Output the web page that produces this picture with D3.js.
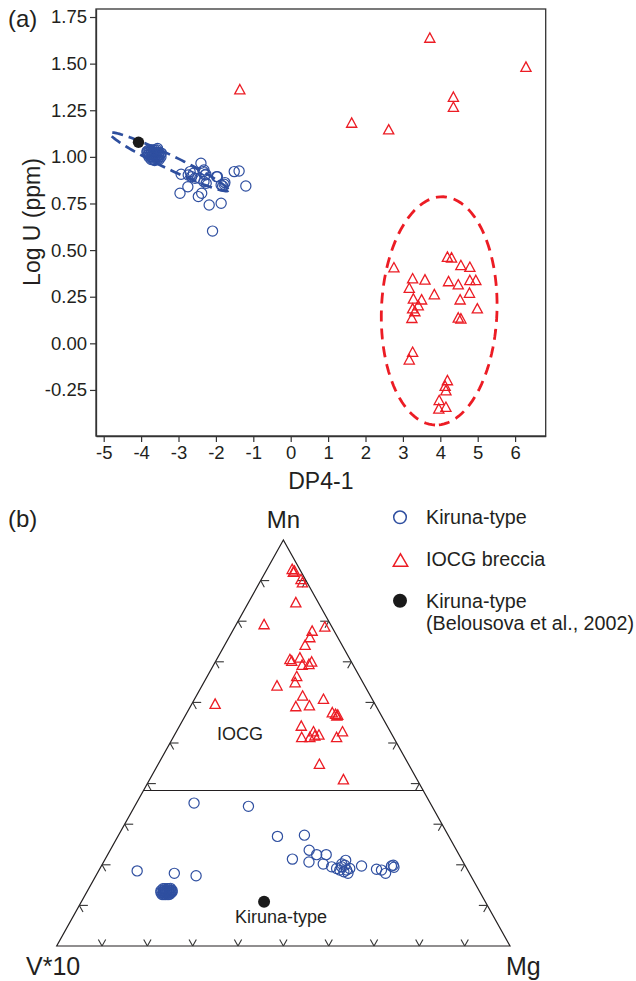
<!DOCTYPE html>
<html><head><meta charset="utf-8">
<script src="https://cdn.jsdelivr.net/npm/d3@7"></script>
<style>
body{margin:0;background:#fff}
svg{display:block}
text{font-family:"Liberation Sans",Arial,Helvetica,sans-serif;fill:#231f20}
</style>
</head><body>
<svg id="c" width="636" height="981"></svg>
<script>
// ---------------- DATA ----------------
// Panel (a): DP4-1 vs Log U (ppm)
const xTicksA = [-5,-4,-3,-2,-1,0,1,2,3,4,5,6];
const yTicksA = [-0.25,0,0.25,0.5,0.75,1,1.25,1.5,1.75];
const xLabelA = "DP4-1";
const yLabelA = "Log U (ppm)";

const kirunaA = [
  // dense cluster
  [-3.79,1.037],[-3.73,1.037],[-3.68,1.037],[-3.63,1.037],[-3.57,1.037],
  [-3.84,1.024],[-3.79,1.024],[-3.73,1.024],[-3.68,1.024],[-3.63,1.024],[-3.57,1.024],[-3.52,1.024],
  [-3.81,1.011],[-3.76,1.011],[-3.70,1.011],[-3.65,1.011],[-3.60,1.011],[-3.54,1.011],[-3.49,1.011],
  [-3.79,0.999],[-3.73,0.999],[-3.68,0.999],[-3.63,0.999],[-3.57,0.999],[-3.52,0.999],[-3.47,0.999],
  [-3.73,0.986],[-3.68,0.986],[-3.63,0.986],[-3.57,0.986],[-3.52,0.986],
  [-3.56,1.045],[-3.46,1.02],[-3.64,0.98],[-3.84,1.030],
  // scattered
  [-2.40,0.966],[-2.93,0.907],[-2.69,0.921],[-2.65,0.894],[-2.34,0.921],[-2.29,0.903],
  [-1.96,0.894],[-2.26,0.858],[-1.86,0.849],[-1.78,0.853],[-1.51,0.921],[-1.38,0.924],
  [-1.20,0.844],[-2.75,0.840],[-2.96,0.805],[-2.47,0.787],[-2.38,0.805],[-2.18,0.742],
  [-1.86,0.751],[-2.09,0.602],[-2.74,0.903],[-2.60,0.912],[-2.32,0.930],[-2.27,0.907],
  [-2.43,0.885],[-2.32,0.867],[-1.98,0.894],[-1.82,0.844],[-1.76,0.862],[-2.56,0.885]
];
const iocgA = [
  [3.72,1.640],[6.29,1.484],[4.35,1.323],[4.35,1.269],[1.63,1.184],[2.62,1.148],[-1.36,1.363],
  [2.76,0.408],[4.19,0.465],[4.30,0.461],[4.55,0.420],[4.79,0.411],[3.26,0.349],[3.59,0.343],
  [3.17,0.298],[4.22,0.334],[4.48,0.317],[4.79,0.340],[4.95,0.340],[4.78,0.272],[3.84,0.264],
  [3.50,0.236],[3.28,0.241],[4.53,0.236],[3.41,0.205],[3.26,0.188],[3.32,0.173],[3.24,0.137],
  [4.99,0.188],[4.48,0.139],[4.55,0.134],[3.26,-0.045],[3.17,-0.086],[4.19,-0.197],
  [4.13,-0.227],[4.15,-0.251],[3.97,-0.304],[4.15,-0.340],[3.96,-0.349]
];
const belousovaA = [[-4.07,1.078]];
// dashed fields: ends of the long axis (data units) and width/length ratio
const kirunaFieldA = {ends: [[-4.83,1.127],[-1.67,0.820]], ratio: 0.105};
const iocgFieldA   = {ends: [[4.08,0.786],[3.86,-0.438]], ratio: 0.506};

// Panel (b): ternary Mn - V*10 - Mg, rows are [Mn, V*10, Mg] fractions
const ternaryTicks = [0.1,0.2,0.3,0.4,0.5,0.6,0.7,0.8,0.9];
const vertexLabels = ["Mn","V*10","Mg"];
const fieldBoundaryMn = 0.383;
const iocgTern = [
  [0.929,0.016,0.055],[0.922,0.017,0.061],[0.925,0.013,0.062],[0.904,0.009,0.087],[0.896,0.010,0.094],
  [0.847,0.049,0.104],[0.793,0.146,0.061],[0.787,0.015,0.198],[0.777,0.048,0.175],[0.761,0.061,0.178],
  [0.742,0.081,0.177],[0.707,0.132,0.161],[0.703,0.130,0.167],[0.711,0.108,0.181],[0.693,0.112,0.195],
  [0.695,0.096,0.209],[0.701,0.087,0.212],[0.665,0.138,0.197],[0.650,0.149,0.201],[0.642,0.193,0.165],
  [0.597,0.352,0.051],[0.617,0.149,0.234],[0.591,0.177,0.232],[0.593,0.146,0.261],[0.609,0.107,0.284],
  [0.576,0.104,0.320],[0.572,0.099,0.329],[0.570,0.095,0.335],[0.568,0.098,0.334],[0.543,0.189,0.268],
  [0.515,0.202,0.283],[0.515,0.184,0.301],[0.529,0.169,0.302],[0.519,0.171,0.310],[0.521,0.161,0.318],
  [0.515,0.125,0.360],[0.529,0.105,0.366],[0.449,0.196,0.355],[0.411,0.162,0.427]
];
const kirunaTern = [
  [0.352,0.521,0.127],[0.344,0.405,0.251],[0.270,0.378,0.352],[0.273,0.317,0.410],[0.236,0.325,0.439],
  [0.225,0.314,0.461],[0.225,0.293,0.482],[0.214,0.373,0.413],[0.207,0.340,0.453],[0.202,0.311,0.487],
  [0.195,0.296,0.509],[0.191,0.287,0.522],[0.195,0.274,0.531],[0.199,0.265,0.536],[0.187,0.267,0.546],
  [0.183,0.275,0.542],[0.191,0.258,0.551],[0.187,0.282,0.531],[0.211,0.257,0.532],[0.179,0.268,0.553],
  [0.202,0.270,0.528],[0.197,0.229,0.574],[0.189,0.200,0.611],[0.187,0.190,0.623],[0.179,0.185,0.636],
  [0.197,0.163,0.640],[0.194,0.159,0.647],[0.199,0.158,0.643],[0.185,0.730,0.085],[0.179,0.651,0.170],
  [0.173,0.606,0.221],
  // dense cluster
  [0.141,0.695,0.164],[0.141,0.691,0.168],[0.141,0.686,0.173],[0.141,0.682,0.177],[0.142,0.678,0.180],
  [0.136,0.702,0.162],[0.136,0.697,0.167],[0.136,0.693,0.171],[0.136,0.689,0.175],[0.136,0.684,0.180],[0.136,0.680,0.184],[0.137,0.677,0.186],
  [0.132,0.704,0.164],[0.132,0.699,0.169],[0.132,0.695,0.173],[0.132,0.691,0.177],[0.132,0.686,0.182],[0.132,0.682,0.186],[0.133,0.679,0.188],
  [0.127,0.704,0.169],[0.127,0.700,0.173],[0.127,0.697,0.176],[0.127,0.693,0.180],[0.127,0.689,0.184],[0.128,0.686,0.186]
];
const belousovaTern = [[0.109,0.488,0.403]];
const legendLabels = ["Kiruna-type","IOCG breccia","Kiruna-type","(Belousova et al., 2002)"];
const fieldLabels = ["IOCG","Kiruna-type"];

// ---------------- DRAWING ----------------
const ink = "#231f20", axisCol = "#333333";
const blue = "#2f4fa0", red = "#ec1c24", black = "#1a1a1a";
const svg = d3.select("#c");

function triPath(x, y, w, h){ return `M${x},${y-h}L${x+w},${y+h}L${x-w},${y+h}Z`; }

// ===== Panel (a) =====
const xA = d3.scaleLinear().domain([-5.206, 6.818]).range([96, 545.7]);
const yA = d3.scaleLinear().domain([-0.497, 1.793]).range([436, 9]);
const gA = svg.append("g");

gA.append("rect").attr("x", xA.range()[0]).attr("y", yA.range()[1])
  .attr("width", xA.range()[1]-xA.range()[0]).attr("height", yA.range()[0]-yA.range()[1])
  .attr("fill","none").attr("stroke",axisCol).attr("stroke-width",1.3);

const axB = gA.append("g").attr("transform",`translate(0,${yA.range()[0]})`)
  .call(d3.axisBottom(xA).tickValues(xTicksA).tickFormat(d=>String(d)).tickSize(6).tickPadding(4).tickSizeOuter(0));
const axL = gA.append("g").attr("transform",`translate(${xA.range()[0]},0)`)
  .call(d3.axisLeft(yA).tickValues(yTicksA).tickFormat(d=>d.toFixed(2)).tickSize(6).tickPadding(3).tickSizeOuter(0));
[axB, axL].forEach(a=>{
  a.attr("font-family",null).attr("font-size",null);
  a.select(".domain").attr("stroke",axisCol).attr("stroke-width",1.3);
  a.selectAll(".tick line").attr("stroke",axisCol).attr("stroke-width",1.2);
  a.selectAll(".tick text").attr("fill",ink).style("font-size","18.5px");
});

gA.append("text").attr("x",(xA.range()[0]+xA.range()[1])/2).attr("y",489).attr("text-anchor","middle")
  .style("font-size","23px").text(xLabelA);
gA.append("text").attr("transform","translate(39.5,222) rotate(-90)").attr("text-anchor","middle")
  .style("font-size","23px").text(yLabelA);
gA.append("text").attr("x",8).attr("y",27).style("font-size","24px").text("(a)");

function ellipsePts(field, sx, sy){
  const p1 = [sx(field.ends[0][0]), sy(field.ends[0][1])];
  const p2 = [sx(field.ends[1][0]), sy(field.ends[1][1])];
  const c = [(p1[0]+p2[0])/2, (p1[1]+p2[1])/2];
  const u = [(p2[0]-p1[0])/2, (p2[1]-p1[1])/2];
  const v = [-u[1]*field.ratio, u[0]*field.ratio];
  return d3.range(0, 120).map(i=>{
    const t = i/120*2*Math.PI;
    return [c[0]+u[0]*Math.cos(t)+v[0]*Math.sin(t), c[1]+u[1]*Math.cos(t)+v[1]*Math.sin(t)];
  });
}
const closed = d3.line().curve(d3.curveLinearClosed);
gA.append("path").attr("d", closed(ellipsePts(kirunaFieldA, xA, yA)))
  .attr("fill","none").attr("stroke","#2e4f9e").attr("stroke-width",2.7).attr("stroke-dasharray","11,6");
gA.append("path").attr("d", closed(ellipsePts(iocgFieldA, xA, yA)))
  .attr("fill","none").attr("stroke",red).attr("stroke-width",2.8).attr("stroke-dasharray","11,7");

gA.append("g").selectAll("circle").data(kirunaA).join("circle")
  .attr("cx",d=>xA(d[0])).attr("cy",d=>yA(d[1])).attr("r",5.1)
  .attr("fill","none").attr("stroke",blue).attr("stroke-width",1.2);
gA.append("g").selectAll("path").data(iocgA).join("path")
  .attr("d",d=>triPath(xA(d[0]), yA(d[1]), 5.1, 4.7))
  .attr("fill","none").attr("stroke",red).attr("stroke-width",1.3).attr("stroke-linejoin","miter");
gA.append("g").selectAll("circle").data(belousovaA).join("circle")
  .attr("cx",d=>xA(d[0])).attr("cy",d=>yA(d[1])).attr("r",5.7).attr("fill",black);

// ===== Panel (b) ternary =====
const tX = d3.scaleLinear().domain([0,1]).range([56.7, 510]);   // Mg + Mn/2
const tY = d3.scaleLinear().domain([0,1]).range([946, 540]);    // Mn
const tpx = d => [tX(d[2] + d[0]/2), tY(d[0])];                  // d = [Mn, V, Mg]
const gB = svg.append("g");

const A = tpx([1,0,0]), L = tpx([0,1,0]), R = tpx([0,0,1]);
gB.append("path").attr("d", closed([A,L,R])).attr("fill","none").attr("stroke",ink).attr("stroke-width",1.2);
const bL = tpx([fieldBoundaryMn, 1-fieldBoundaryMn, 0]), bR = tpx([fieldBoundaryMn, 0, 1-fieldBoundaryMn]);
gB.append("line").attr("x1",bL[0]).attr("y1",bL[1]).attr("x2",bR[0]).attr("y2",bR[1])
  .attr("stroke",ink).attr("stroke-width",1.1);

// ticks
function unit(p, q){ const dx=q[0]-p[0], dy=q[1]-p[1], n=Math.hypot(dx,dy); return [dx/n, dy/n]; }
const dirAR = unit(A,R), dirAL = unit(A,L);
const tl = 8.5, ts = 7.5;
const tickSegs = [];
ternaryTicks.forEach(k=>{
  const pl = tpx([k,1-k,0]);               // left edge
  tickSegs.push([pl,[pl[0]+tl,pl[1]]], [pl,[pl[0]+dirAR[0]*ts, pl[1]+dirAR[1]*ts]]);
  const pr = tpx([k,0,1-k]);               // right edge
  tickSegs.push([pr,[pr[0]-tl,pr[1]]], [pr,[pr[0]+dirAL[0]*ts, pr[1]+dirAL[1]*ts]]);
  const pb = tpx([0,1-k,k]);               // base
  tickSegs.push([pb,[pb[0]-dirAR[0]*ts, pb[1]-dirAR[1]*ts]], [pb,[pb[0]-dirAL[0]*ts, pb[1]-dirAL[1]*ts]]);
});
gB.append("g").selectAll("line").data(tickSegs).join("line")
  .attr("x1",d=>d[0][0]).attr("y1",d=>d[0][1]).attr("x2",d=>d[1][0]).attr("y2",d=>d[1][1])
  .attr("stroke",axisCol).attr("stroke-width",1.1);

gB.append("text").attr("x",A[0]).attr("y",528).attr("text-anchor","middle").style("font-size","24px").text(vertexLabels[0]);
gB.append("text").attr("x",26).attr("y",975).style("font-size","25px").text(vertexLabels[1]);
gB.append("text").attr("x",506).attr("y",975).style("font-size","25px").text(vertexLabels[2]);
gB.append("text").attr("x",8).attr("y",527).style("font-size","24px").text("(b)");
gB.append("text").attr("x",217).attr("y",739.5).style("font-size","18px").text(fieldLabels[0]);
gB.append("text").attr("x",235).attr("y",923).style("font-size","18px").text(fieldLabels[1]);

gB.append("g").selectAll("path").data(iocgTern).join("path")
  .attr("d",d=>{const p=tpx(d); return triPath(p[0],p[1],5.1,4.7);})
  .attr("fill","none").attr("stroke",red).attr("stroke-width",1.3);
gB.append("g").selectAll("circle").data(kirunaTern).join("circle")
  .attr("cx",d=>tpx(d)[0]).attr("cy",d=>tpx(d)[1]).attr("r",5.1)
  .attr("fill","none").attr("stroke",blue).attr("stroke-width",1.2);
gB.append("g").selectAll("circle").data(belousovaTern).join("circle")
  .attr("cx",d=>tpx(d)[0]).attr("cy",d=>tpx(d)[1]).attr("r",6).attr("fill",black);

// legend
const lg = svg.append("g");
lg.append("circle").attr("cx",400).attr("cy",517.3).attr("r",6.3).attr("fill","none").attr("stroke",blue).attr("stroke-width",1.5);
lg.append("path").attr("d",triPath(400.5,560,7.2,6.2)).attr("fill","none").attr("stroke",red).attr("stroke-width",1.5);
lg.append("circle").attr("cx",400).attr("cy",600.7).attr("r",7).attr("fill",black);
const lx = 426;
[[legendLabels[0],524],[legendLabels[1],566],[legendLabels[2],608],[legendLabels[3],629.5]].forEach(([t,y])=>{
  lg.append("text").attr("x",lx).attr("y",y).style("font-size","19.7px").text(t);
});
</script>
</body></html>
